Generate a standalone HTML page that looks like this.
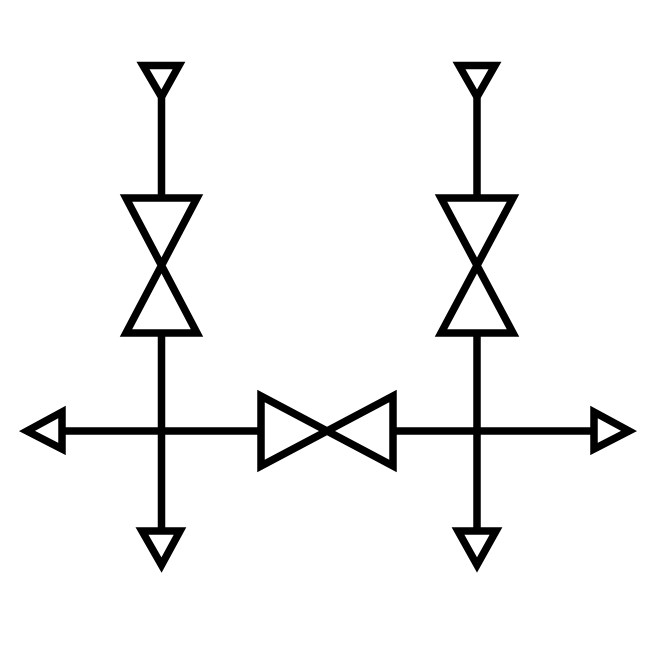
<!DOCTYPE html>
<html><head><style>html,body{margin:0;padding:0;background:#fff;}svg{display:block}</style></head>
<body>
<svg width="650" height="650" viewBox="0 0 650 650" xmlns="http://www.w3.org/2000/svg">
<g fill="none" stroke="#000" stroke-width="7.5" stroke-linejoin="miter" stroke-miterlimit="10">
<!-- left column -->
<line x1="161.5" y1="94" x2="161.5" y2="198"/>
<polygon points="143,65.5 179,65.5 161.5,97"/>
<polygon points="126,198 197,198 126,333 197,333"/>
<line x1="161.5" y1="333" x2="161.5" y2="531"/>
<polygon points="142,531 180,531 161.5,565"/>
<!-- right column -->
<line x1="477" y1="94" x2="477" y2="198"/>
<polygon points="459,65.5 495,65.5 477,97"/>
<polygon points="441,198 513,198 441,333 513,333"/>
<line x1="477" y1="333" x2="477" y2="531"/>
<polygon points="458,531 496,531 477,565"/>
<!-- horizontal -->
<line x1="62" y1="431" x2="261" y2="431"/>
<line x1="393" y1="431" x2="594" y2="431"/>
<polygon points="62,412 62,449 27,431"/>
<polygon points="594,412 594,449 629,431"/>
<polygon points="261,396 261,466 393,396 393,466"/>
</g>
</svg>
</body></html>
